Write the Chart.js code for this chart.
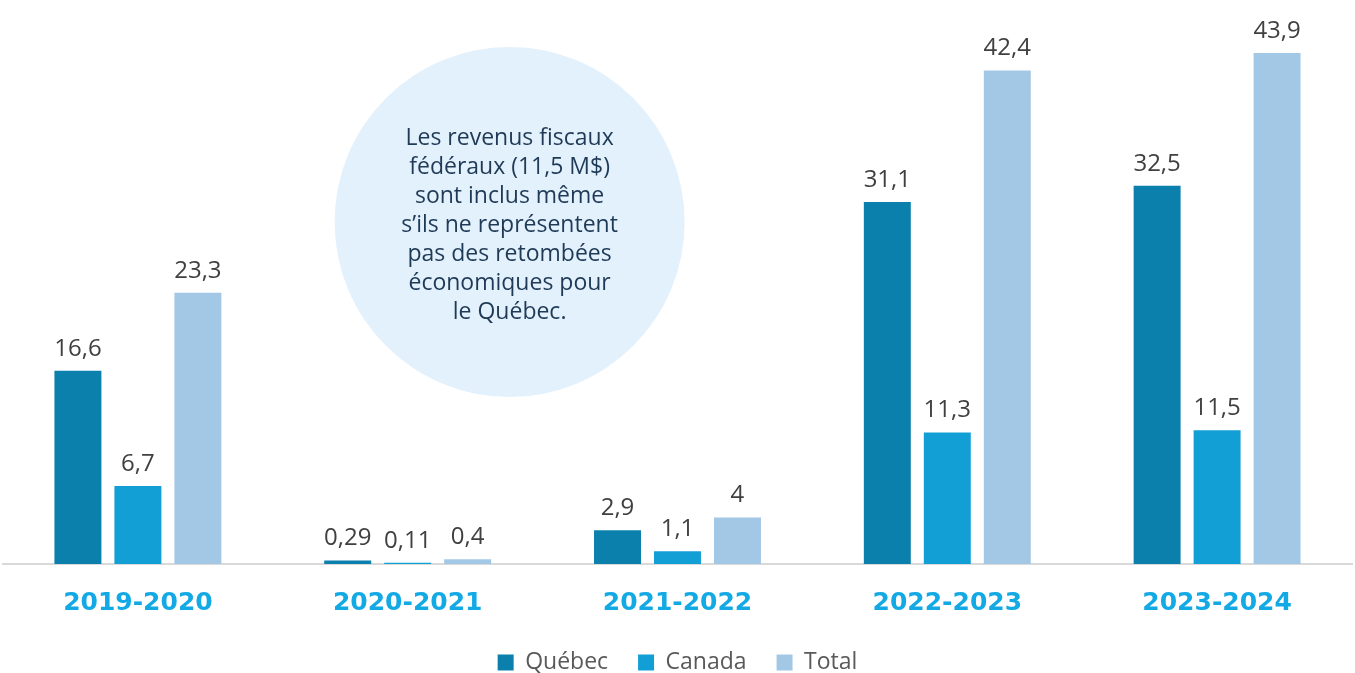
<!DOCTYPE html>
<html>
<head>
<meta charset="utf-8">
<script src="https://cdn.jsdelivr.net/npm/chart.js@4.4.0/dist/chart.umd.min.js"></script>
<style>
  html, body { margin: 0; padding: 0; background: #ffffff; overflow: hidden; }
  #wrap { width: 1355px; height: 686px; position: relative; }
</style>
</head>
<body>
<div id="wrap"><canvas id="myChart"></canvas></div>
<script>
// data
const periods = ['2019-2020', '2020-2021', '2021-2022', '2022-2023', '2023-2024'];
const quebec = [16.6, 0.29, 2.9, 31.1, 32.5];
const canada = [6.7, 0.11, 1.1, 11.3, 11.5];
const total = [23.3, 0.4, 4, 42.4, 43.9];
const noteLines = [
  'Les revenus fiscaux',
  'fédéraux (11,5 M$)',
  'sont inclus même',
  "s’ils ne représentent",
  'pas des retombées',
  'économiques pour',
  'le Québec.'
];

const FONT = "'Open Sans', 'Noto Sans', sans-serif";

// value labels above each bar
const valueLabels = {
  id: 'valueLabels',
  afterDatasetsDraw(chart) {
    const ctx = chart.ctx;
    ctx.save();
    ctx.font = '24px ' + FONT;
    ctx.fillStyle = '#404040';
    ctx.textAlign = 'center';
    ctx.textBaseline = 'bottom';
    chart.data.datasets.forEach(function(ds, i) {
      chart.getDatasetMeta(i).data.forEach(function(bar, j) {
        const txt = String(ds.data[j]).replace('.', ',');
        ctx.fillText(txt, bar.x, bar.y - 10);
      });
    });
    ctx.restore();
  }
};

// the round note between the first groups
const noteBubble = {
  id: 'noteBubble',
  beforeDatasetsDraw(chart) {
    const ctx = chart.ctx;
    const x = chart.scales.x;
    const cx = (x.getPixelForValue(1) + x.getPixelForValue(2)) / 2 - 33;
    const cy = 222;
    ctx.save();
    ctx.beginPath();
    ctx.arc(cx, cy, 175, 0, Math.PI * 2);
    ctx.fillStyle = '#e3f1fc';
    ctx.fill();
    ctx.font = '23px ' + FONT;
    ctx.fillStyle = '#1f3a56';
    ctx.textAlign = 'center';
    ctx.textBaseline = 'middle';
    const lh = 29;
    const start = cy - lh * (noteLines.length - 1) / 2 + 3;
    noteLines.forEach(function(line, k) {
      ctx.fillText(line, cx, start + k * lh);
    });
    ctx.restore();
  }
};

new Chart(document.getElementById('myChart'), {
  type: 'bar',
  data: {
    labels: periods,
    datasets: [
      { label: 'Québec', data: quebec, backgroundColor: '#0b80ad' },
      { label: 'Canada', data: canada, backgroundColor: '#129fd6' },
      { label: 'Total', data: total, backgroundColor: '#a3c8e6' }
    ]
  },
  options: {
    responsive: true,
    maintainAspectRatio: false,
    animation: false,
    layout: { padding: { left: 3, right: 3, top: 0, bottom: 2 } },
    categoryPercentage: 0.667,
    barPercentage: 0.783,
    scales: {
      x: {
        grid: { display: false, drawTicks: false },
        border: { color: '#d9d9d9', width: 2 },
        ticks: {
          color: '#13a9e4',
          font: { family: "'DejaVu Sans', sans-serif", size: 25, weight: 'bold' },
          padding: 24
        },
        afterFit: function(scale) { scale.height -= 21; }
      },
      y: {
        display: false,
        min: 0,
        max: 48.45
      }
    },
    plugins: {
      legend: {
        position: 'bottom',
        labels: {
          color: '#595959',
          font: { family: FONT, size: 23 },
          boxWidth: 16,
          boxHeight: 16,
          padding: 30
        }
      },
      tooltip: { enabled: false }
    }
  },
  plugins: [noteBubble, valueLabels]
});
</script>
</body>
</html>
